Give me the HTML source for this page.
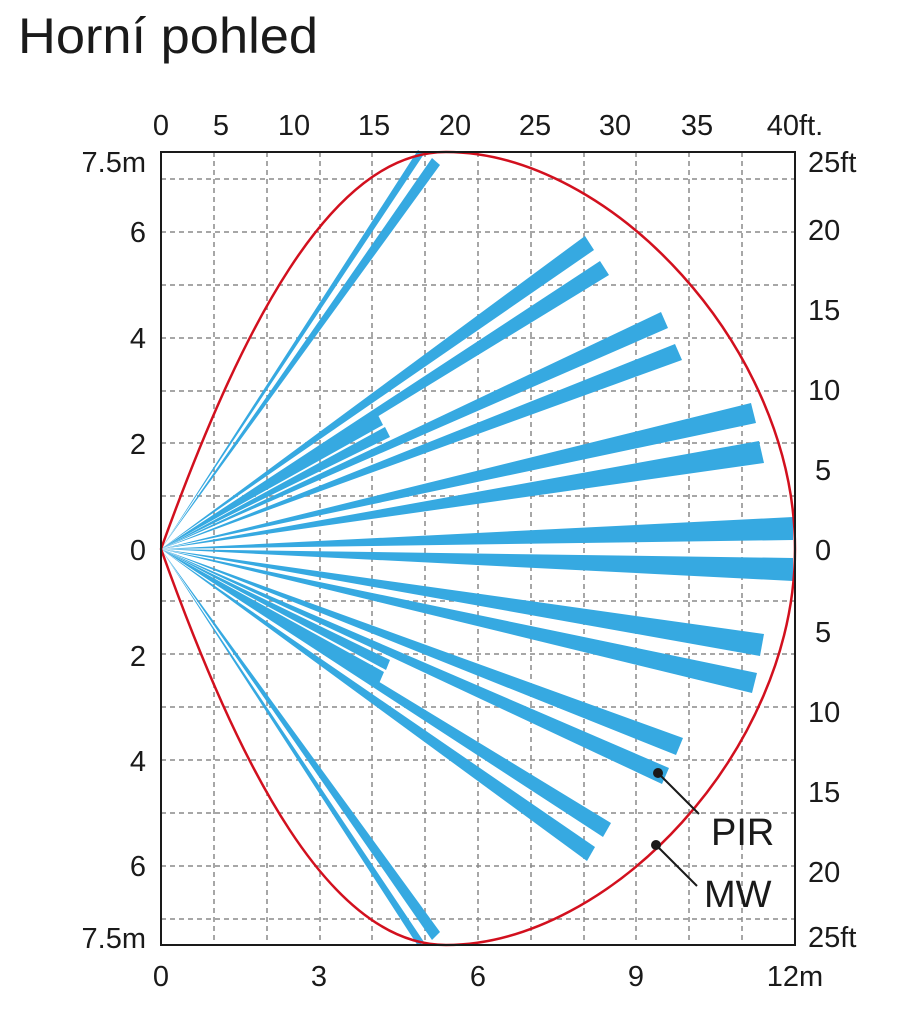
<!DOCTYPE html>
<html><head><meta charset="utf-8"><style>
body{margin:0;background:#fff;}
svg{display:block;font-family:"Liberation Sans",sans-serif;}
</style></head><body>
<svg width="912" height="1028" viewBox="0 0 912 1028">
<text x="18" y="53" font-size="50" fill="#1a1a1a" textLength="300" lengthAdjust="spacingAndGlyphs">Horní pohled</text>
<g stroke="#8a8a8a" stroke-width="1.5" stroke-dasharray="5,4">
<line x1="214" y1="152" x2="214" y2="945"/><line x1="267" y1="152" x2="267" y2="945"/>
<line x1="320" y1="152" x2="320" y2="945"/><line x1="372" y1="152" x2="372" y2="945"/>
<line x1="425" y1="152" x2="425" y2="945"/><line x1="478" y1="152" x2="478" y2="945"/>
<line x1="531" y1="152" x2="531" y2="945"/><line x1="584" y1="152" x2="584" y2="945"/>
<line x1="636" y1="152" x2="636" y2="945"/><line x1="689" y1="152" x2="689" y2="945"/>
<line x1="742" y1="152" x2="742" y2="945"/>
<line x1="161" y1="179" x2="795" y2="179"/><line x1="161" y1="232" x2="795" y2="232"/>
<line x1="161" y1="285" x2="795" y2="285"/><line x1="161" y1="338" x2="795" y2="338"/>
<line x1="161" y1="391" x2="795" y2="391"/><line x1="161" y1="443" x2="795" y2="443"/>
<line x1="161" y1="496" x2="795" y2="496"/>
<line x1="161" y1="601" x2="795" y2="601"/><line x1="161" y1="654" x2="795" y2="654"/>
<line x1="161" y1="707" x2="795" y2="707"/><line x1="161" y1="760" x2="795" y2="760"/>
<line x1="161" y1="813" x2="795" y2="813"/><line x1="161" y1="866" x2="795" y2="866"/>
<line x1="161" y1="919" x2="795" y2="919"/>
</g>
<g fill="#36a9e1">
<polygon points="161,549 418,150 424,154"/>
<polygon points="161,549 432,158 440,165"/>
<polygon points="161,549 585,236 594,250"/>
<polygon points="161,549 600,261 609,275"/>
<polygon points="161,549 661,312 668,328"/>
<polygon points="161,549 675,344 682,360"/>
<polygon points="161,549 751,403 756,423"/>
<polygon points="161,549 759,441 764,463"/>
<polygon points="161,549 793,517 793,540"/>
<polygon points="161,549 376,411 383,425"/>
<polygon points="161,549 385,427 390,437"/>
<polygon points="161,549 793,558 793,581"/>
<polygon points="161,549 764,634 760,656"/>
<polygon points="161,549 757,673 752,693"/>
<polygon points="161,549 683,738 676,755"/>
<polygon points="161,549 669,768 662,784"/>
<polygon points="161,549 611,823 603,837"/>
<polygon points="161,549 595,847 587,861"/>
<polygon points="161,549 440,932 432,940"/>
<polygon points="161,549 424,942 418,946"/>
<polygon points="161,549 390,660 386,670"/>
<polygon points="161,549 384,672 378,686"/>
</g>
<path d="M161,549 C240,330 330,152 446,152 C610,152 795,348 795,549 C795,750 610,945 446,945 C330,945 240,770 161,549Z" fill="none" stroke="#d2101e" stroke-width="2.5"/>
<rect x="161" y="152" width="634" height="793" fill="none" stroke="#1a1a1a" stroke-width="2"/>
<g fill="#1a1a1a" font-size="29">
<g text-anchor="middle">
<text x="161" y="135">0</text><text x="221" y="135">5</text><text x="294" y="135">10</text>
<text x="374" y="135">15</text><text x="455" y="135">20</text><text x="535" y="135">25</text>
<text x="615" y="135">30</text><text x="697" y="135">35</text><text x="795" y="135">40ft.</text>
<text x="161" y="986">0</text><text x="319" y="986">3</text><text x="478" y="986">6</text>
<text x="636" y="986">9</text><text x="795" y="986">12m</text>
</g>
<g text-anchor="end">
<text x="146" y="172">7.5m</text><text x="146" y="242">6</text><text x="146" y="348">4</text>
<text x="146" y="454">2</text><text x="146" y="560">0</text><text x="146" y="666">2</text>
<text x="146" y="771">4</text><text x="146" y="876">6</text><text x="146" y="948">7.5m</text>
</g>
<g text-anchor="start">
<text x="808" y="172">25ft</text><text x="808" y="240">20</text><text x="808" y="320">15</text>
<text x="808" y="400">10</text><text x="815" y="480">5</text><text x="815" y="560">0</text>
<text x="815" y="642">5</text><text x="808" y="722">10</text><text x="808" y="802">15</text>
<text x="808" y="882">20</text><text x="808" y="947">25ft</text>
</g>
</g>
<g stroke="#1a1a1a" stroke-width="2"><line x1="658" y1="773" x2="699" y2="814"/><line x1="656" y1="845" x2="697" y2="886"/></g>
<circle cx="658" cy="773" r="5" fill="#1a1a1a"/><circle cx="656" cy="845" r="5" fill="#1a1a1a"/>
<text x="711" y="845" font-size="38" fill="#1a1a1a">PIR</text>
<text x="704" y="907" font-size="38" fill="#1a1a1a">MW</text>
</svg>
</body></html>
